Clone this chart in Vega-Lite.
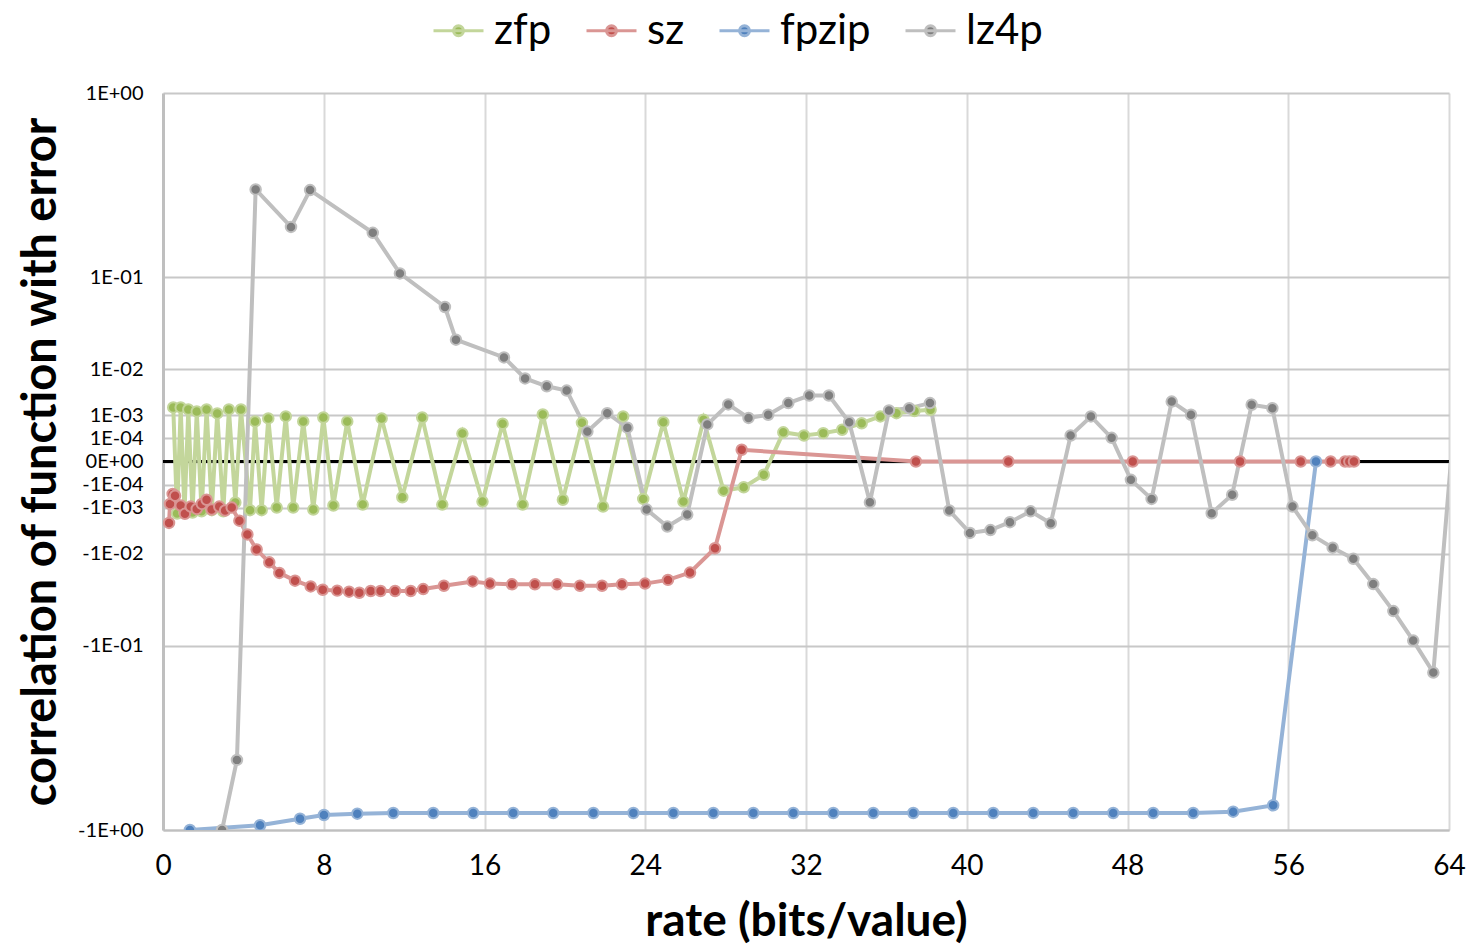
{
  "$schema": "https://vega.github.io/schema/vega-lite/v6.json",
  "width": 1286,
  "height": 737,
  "autosize": {"type": "none"},
  "padding": {"left": 163, "top": 93, "right": 25, "bottom": 117},
  "background": "white",
  "config": {
    "view": {"stroke": null},
    "font": "Lato",
    "axis": {"labelFont": "Lato", "titleFont": "Lato", "labelColor": "black", "titleColor": "black"},
    "legend": {"labelFont": "Lato"}
  },
  "data": {
    "values": [
      {"series": "zfp", "rate": 0.51, "corr": 0.0017},
      {"series": "zfp", "rate": 0.70, "corr": -0.0015},
      {"series": "zfp", "rate": 0.88, "corr": 0.0017},
      {"series": "zfp", "rate": 1.07, "corr": -0.0014},
      {"series": "zfp", "rate": 1.26, "corr": 0.0015},
      {"series": "zfp", "rate": 1.47, "corr": -0.0014},
      {"series": "zfp", "rate": 1.68, "corr": 0.00132},
      {"series": "zfp", "rate": 1.92, "corr": -0.0013},
      {"series": "zfp", "rate": 2.17, "corr": 0.0015},
      {"series": "zfp", "rate": 2.43, "corr": -0.0012},
      {"series": "zfp", "rate": 2.70, "corr": 0.00115},
      {"series": "zfp", "rate": 3.00, "corr": -0.0013},
      {"series": "zfp", "rate": 3.28, "corr": 0.0015},
      {"series": "zfp", "rate": 3.60, "corr": -0.00068},
      {"series": "zfp", "rate": 3.88, "corr": 0.0015},
      {"series": "zfp", "rate": 4.33, "corr": -0.0012},
      {"series": "zfp", "rate": 4.58, "corr": 0.00063},
      {"series": "zfp", "rate": 4.91, "corr": -0.0012},
      {"series": "zfp", "rate": 5.24, "corr": 0.0008},
      {"series": "zfp", "rate": 5.66, "corr": -0.001},
      {"series": "zfp", "rate": 6.11, "corr": 0.00093},
      {"series": "zfp", "rate": 6.48, "corr": -0.001},
      {"series": "zfp", "rate": 6.98, "corr": 0.00063},
      {"series": "zfp", "rate": 7.48, "corr": -0.00115},
      {"series": "zfp", "rate": 7.98, "corr": 0.00086},
      {"series": "zfp", "rate": 8.48, "corr": -0.00086},
      {"series": "zfp", "rate": 9.17, "corr": 0.00063},
      {"series": "zfp", "rate": 9.94, "corr": -0.0008},
      {"series": "zfp", "rate": 10.88, "corr": 0.0008},
      {"series": "zfp", "rate": 11.91, "corr": -0.00043},
      {"series": "zfp", "rate": 12.90, "corr": 0.00086},
      {"series": "zfp", "rate": 13.90, "corr": -0.0008},
      {"series": "zfp", "rate": 14.90, "corr": 0.00019},
      {"series": "zfp", "rate": 15.90, "corr": -0.00063},
      {"series": "zfp", "rate": 16.90, "corr": 0.00052},
      {"series": "zfp", "rate": 17.90, "corr": -0.0008},
      {"series": "zfp", "rate": 18.90, "corr": 0.00107},
      {"series": "zfp", "rate": 19.90, "corr": -0.00054},
      {"series": "zfp", "rate": 20.85, "corr": 0.00056},
      {"series": "zfp", "rate": 21.90, "corr": -0.00093},
      {"series": "zfp", "rate": 22.90, "corr": 0.00093},
      {"series": "zfp", "rate": 23.90, "corr": -0.0005},
      {"series": "zfp", "rate": 24.90, "corr": 0.00059},
      {"series": "zfp", "rate": 25.90, "corr": -0.00063},
      {"series": "zfp", "rate": 26.90, "corr": 0.00072},
      {"series": "zfp", "rate": 27.90, "corr": -0.00022},
      {"series": "zfp", "rate": 28.90, "corr": -0.000145},
      {"series": "zfp", "rate": 29.90, "corr": -0.000016},
      {"series": "zfp", "rate": 30.87, "corr": 0.00022},
      {"series": "zfp", "rate": 31.90, "corr": 0.00015},
      {"series": "zfp", "rate": 32.86, "corr": 0.0002},
      {"series": "zfp", "rate": 33.80, "corr": 0.00029},
      {"series": "zfp", "rate": 34.77, "corr": 0.00054},
      {"series": "zfp", "rate": 35.70, "corr": 0.00093},
      {"series": "zfp", "rate": 36.50, "corr": 0.00117},
      {"series": "zfp", "rate": 37.40, "corr": 0.00135},
      {"series": "zfp", "rate": 38.20, "corr": 0.00147},

      {"series": "sz", "rate": 0.30, "corr": -0.0026},
      {"series": "sz", "rate": 0.35, "corr": -0.00076},
      {"series": "sz", "rate": 0.48, "corr": -0.00031},
      {"series": "sz", "rate": 0.60, "corr": -0.00037},
      {"series": "sz", "rate": 0.88, "corr": -0.00086},
      {"series": "sz", "rate": 1.09, "corr": -0.00153},
      {"series": "sz", "rate": 1.38, "corr": -0.00093},
      {"series": "sz", "rate": 1.68, "corr": -0.0011},
      {"series": "sz", "rate": 1.93, "corr": -0.00076},
      {"series": "sz", "rate": 2.17, "corr": -0.00054},
      {"series": "sz", "rate": 2.42, "corr": -0.00115},
      {"series": "sz", "rate": 2.80, "corr": -0.00093},
      {"series": "sz", "rate": 3.09, "corr": -0.00123},
      {"series": "sz", "rate": 3.42, "corr": -0.001},
      {"series": "sz", "rate": 3.80, "corr": -0.0023},
      {"series": "sz", "rate": 4.20, "corr": -0.0046},
      {"series": "sz", "rate": 4.66, "corr": -0.0086},
      {"series": "sz", "rate": 5.29, "corr": -0.0135},
      {"series": "sz", "rate": 5.79, "corr": -0.0188},
      {"series": "sz", "rate": 6.57, "corr": -0.0235},
      {"series": "sz", "rate": 7.35, "corr": -0.0275},
      {"series": "sz", "rate": 7.95, "corr": -0.03},
      {"series": "sz", "rate": 8.67, "corr": -0.0307},
      {"series": "sz", "rate": 9.26, "corr": -0.0315},
      {"series": "sz", "rate": 9.77, "corr": -0.0324},
      {"series": "sz", "rate": 10.34, "corr": -0.031},
      {"series": "sz", "rate": 10.83, "corr": -0.031},
      {"series": "sz", "rate": 11.55, "corr": -0.031},
      {"series": "sz", "rate": 12.33, "corr": -0.031},
      {"series": "sz", "rate": 12.95, "corr": -0.0295},
      {"series": "sz", "rate": 13.98, "corr": -0.027},
      {"series": "sz", "rate": 15.41, "corr": -0.024},
      {"series": "sz", "rate": 16.27, "corr": -0.0255},
      {"series": "sz", "rate": 17.37, "corr": -0.026},
      {"series": "sz", "rate": 18.51, "corr": -0.026},
      {"series": "sz", "rate": 19.61, "corr": -0.026},
      {"series": "sz", "rate": 20.75, "corr": -0.027},
      {"series": "sz", "rate": 21.85, "corr": -0.027},
      {"series": "sz", "rate": 22.84, "corr": -0.026},
      {"series": "sz", "rate": 23.99, "corr": -0.0255},
      {"series": "sz", "rate": 25.13, "corr": -0.023},
      {"series": "sz", "rate": 26.23, "corr": -0.0186},
      {"series": "sz", "rate": 27.47, "corr": -0.0082},
      {"series": "sz", "rate": 28.80, "corr": 0.0000106},
      {"series": "sz", "rate": 37.47, "corr": 0},
      {"series": "sz", "rate": 42.07, "corr": 0},
      {"series": "sz", "rate": 48.26, "corr": 0},
      {"series": "sz", "rate": 53.60, "corr": 0},
      {"series": "sz", "rate": 56.62, "corr": 0},
      {"series": "sz", "rate": 58.11, "corr": 0},
      {"series": "sz", "rate": 58.83, "corr": 0},
      {"series": "sz", "rate": 59.04, "corr": 0},
      {"series": "sz", "rate": 59.27, "corr": 0},

      {"series": "fpzip", "rate": 1.34, "corr": -1.0},
      {"series": "fpzip", "rate": 4.83, "corr": -0.958},
      {"series": "fpzip", "rate": 6.82, "corr": -0.902},
      {"series": "fpzip", "rate": 8.01, "corr": -0.871},
      {"series": "fpzip", "rate": 9.67, "corr": -0.86},
      {"series": "fpzip", "rate": 11.46, "corr": -0.855},
      {"series": "fpzip", "rate": 13.45, "corr": -0.855},
      {"series": "fpzip", "rate": 15.44, "corr": -0.855},
      {"series": "fpzip", "rate": 17.43, "corr": -0.855},
      {"series": "fpzip", "rate": 19.42, "corr": -0.855},
      {"series": "fpzip", "rate": 21.42, "corr": -0.855},
      {"series": "fpzip", "rate": 23.41, "corr": -0.855},
      {"series": "fpzip", "rate": 25.40, "corr": -0.855},
      {"series": "fpzip", "rate": 27.39, "corr": -0.855},
      {"series": "fpzip", "rate": 29.38, "corr": -0.855},
      {"series": "fpzip", "rate": 31.37, "corr": -0.855},
      {"series": "fpzip", "rate": 33.36, "corr": -0.855},
      {"series": "fpzip", "rate": 35.35, "corr": -0.855},
      {"series": "fpzip", "rate": 37.34, "corr": -0.855},
      {"series": "fpzip", "rate": 39.33, "corr": -0.855},
      {"series": "fpzip", "rate": 41.32, "corr": -0.855},
      {"series": "fpzip", "rate": 43.31, "corr": -0.855},
      {"series": "fpzip", "rate": 45.30, "corr": -0.855},
      {"series": "fpzip", "rate": 47.29, "corr": -0.855},
      {"series": "fpzip", "rate": 49.28, "corr": -0.855},
      {"series": "fpzip", "rate": 51.27, "corr": -0.855},
      {"series": "fpzip", "rate": 53.26, "corr": -0.844},
      {"series": "fpzip", "rate": 55.25, "corr": -0.794},
      {"series": "fpzip", "rate": 57.38, "corr": 0},

      {"series": "lz4p", "rate": 2.94, "corr": -1.0},
      {"series": "lz4p", "rate": 3.68, "corr": -0.496},
      {"series": "lz4p", "rate": 4.61, "corr": 0.365},
      {"series": "lz4p", "rate": 6.37, "corr": 0.223},
      {"series": "lz4p", "rate": 7.32, "corr": 0.362},
      {"series": "lz4p", "rate": 10.44, "corr": 0.205},
      {"series": "lz4p", "rate": 11.79, "corr": 0.107},
      {"series": "lz4p", "rate": 14.03, "corr": 0.0557},
      {"series": "lz4p", "rate": 14.58, "corr": 0.0253},
      {"series": "lz4p", "rate": 16.97, "corr": 0.015},
      {"series": "lz4p", "rate": 18.02, "corr": 0.0071},
      {"series": "lz4p", "rate": 19.10, "corr": 0.0051},
      {"series": "lz4p", "rate": 20.09, "corr": 0.0042},
      {"series": "lz4p", "rate": 21.12, "corr": 0.00024},
      {"series": "lz4p", "rate": 22.11, "corr": 0.00117},
      {"series": "lz4p", "rate": 23.11, "corr": 0.00036},
      {"series": "lz4p", "rate": 24.07, "corr": -0.00115},
      {"series": "lz4p", "rate": 25.10, "corr": -0.00315},
      {"series": "lz4p", "rate": 26.09, "corr": -0.0016},
      {"series": "lz4p", "rate": 27.09, "corr": 0.000485},
      {"series": "lz4p", "rate": 28.13, "corr": 0.00204},
      {"series": "lz4p", "rate": 29.14, "corr": 0.00083},
      {"series": "lz4p", "rate": 30.12, "corr": 0.00105},
      {"series": "lz4p", "rate": 31.12, "corr": 0.0022},
      {"series": "lz4p", "rate": 32.16, "corr": 0.0033},
      {"series": "lz4p", "rate": 33.14, "corr": 0.0033},
      {"series": "lz4p", "rate": 34.15, "corr": 0.00059},
      {"series": "lz4p", "rate": 35.18, "corr": -0.00067},
      {"series": "lz4p", "rate": 36.13, "corr": 0.00141},
      {"series": "lz4p", "rate": 37.14, "corr": 0.00163},
      {"series": "lz4p", "rate": 38.17, "corr": 0.0022},
      {"series": "lz4p", "rate": 39.13, "corr": -0.00123},
      {"series": "lz4p", "rate": 40.16, "corr": -0.0043},
      {"series": "lz4p", "rate": 41.18, "corr": -0.00375},
      {"series": "lz4p", "rate": 42.15, "corr": -0.0025},
      {"series": "lz4p", "rate": 43.18, "corr": -0.0013},
      {"series": "lz4p", "rate": 44.18, "corr": -0.00265},
      {"series": "lz4p", "rate": 45.17, "corr": 0.00015},
      {"series": "lz4p", "rate": 46.18, "corr": 0.00093},
      {"series": "lz4p", "rate": 47.21, "corr": 0.00011},
      {"series": "lz4p", "rate": 48.17, "corr": -0.000047},
      {"series": "lz4p", "rate": 49.20, "corr": -0.0005},
      {"series": "lz4p", "rate": 50.20, "corr": 0.0024},
      {"series": "lz4p", "rate": 51.16, "corr": 0.00105},
      {"series": "lz4p", "rate": 52.19, "corr": -0.00147},
      {"series": "lz4p", "rate": 53.21, "corr": -0.00034},
      {"series": "lz4p", "rate": 54.18, "corr": 0.002},
      {"series": "lz4p", "rate": 55.21, "corr": 0.00163},
      {"series": "lz4p", "rate": 56.21, "corr": -0.00093},
      {"series": "lz4p", "rate": 57.20, "corr": -0.0048},
      {"series": "lz4p", "rate": 58.21, "corr": -0.008},
      {"series": "lz4p", "rate": 59.24, "corr": -0.012},
      {"series": "lz4p", "rate": 60.23, "corr": -0.0258},
      {"series": "lz4p", "rate": 61.23, "corr": -0.05},
      {"series": "lz4p", "rate": 62.22, "corr": -0.091},
      {"series": "lz4p", "rate": 63.22, "corr": -0.157},
      {"series": "lz4p", "rate": 64.22, "corr": 0.00024}
    ]
  },
  "encoding": {
    "x": {
      "field": "rate", "type": "quantitative",
      "scale": {"domain": [0, 64], "nice": false, "zero": false},
      "axis": {
        "values": [0, 8, 16, 24, 32, 40, 48, 56, 64],
        "title": "rate (bits/value)",
        "grid": true, "gridColor": "#D9D9D9", "gridWidth": 2,
        "ticks": false, "domainColor": "#BFBFBF", "domainWidth": 2,
        "labelFontSize": 28, "labelPadding": 22, "labelFlush": false,
        "titleFontSize": 46, "titleFontWeight": "bold", "titlePadding": 19
      }
    },
    "y": {
      "field": "corr", "type": "quantitative",
      "scale": {"type": "pow", "exponent": 0.30103, "domain": [-1, 1], "nice": false, "zero": false},
      "axis": {
        "values": [1, 0.1, 0.01, 0.001, 0.0001, 0, -0.0001, -0.001, -0.01, -0.1, -1],
        "labelExpr": "datum.value == 0 ? '0E+00' : (datum.value < 0 ? '-' : '') + '1E' + (abs(datum.value) >= 1 ? '+00' : '-0' + round(-log(abs(datum.value)) / LN10))",
        "title": "correlation of function with error",
        "grid": true, "gridColor": "#C8C8C8", "gridWidth": 2,
        "ticks": false, "domainColor": "#BFBFBF", "domainWidth": 3,
        "labelFontSize": 20, "labelPadding": 20, "labelOverlap": false, "labelFlush": false,
        "titleFontSize": 47, "titleFontWeight": "bold", "titlePadding": 12
      }
    }
  },
  "layer": [
    {
      "mark": {"type": "rule", "color": "black", "strokeWidth": 3},
      "encoding": {"y": {"datum": 0}, "x": {"datum": 0}, "x2": {"datum": 64}}
    },
    {
      "mark": {"type": "line", "strokeWidth": 4, "clip": true},
      "encoding": {
        "stroke": {
          "field": "series", "type": "nominal",
          "scale": {"domain": ["zfp", "sz", "fpzip", "lz4p"], "range": ["#C3D69B", "#DA9694", "#95B3D7", "#BFBFBF"]},
          "legend": {
            "title": null, "orient": "none", "legendX": 269, "legendY": -89,
            "direction": "horizontal",
            "symbolType": "M-1,0L1,0M0.2,0A0.2,0.2,0,1,1,-0.2,0A0.2,0.2,0,1,1,0.2,0Z",
            "symbolSize": 2500, "symbolStrokeWidth": 3,
            "labelFontSize": 42, "labelColor": "black", "labelOffset": 9,
            "columnPadding": 28,
            "encode": {
              "symbols": {
                "update": {
                  "shape": {"value": "M-1,0L1,0M0.2,0A0.2,0.2,0,1,1,-0.2,0A0.2,0.2,0,1,1,0.2,0Z"},
                  "fill": {"scale": "fill", "field": "value"},
                  "stroke": {"scale": "stroke", "field": "value"},
                  "strokeWidth": {"value": 3},
                  "opacity": {"value": 1},
                  "fillOpacity": {"value": 1}
                }
              }
            }
          }
        }
      }
    },
    {
      "transform": [{"filter": "datum.rate <= 64"}],
      "mark": {"type": "point", "filled": true, "size": 110, "strokeWidth": 2, "opacity": 1, "clip": true},
      "encoding": {
        "fill": {
          "field": "series", "type": "nominal",
          "scale": {"domain": ["zfp", "sz", "fpzip", "lz4p"], "range": ["#9BBB59", "#C0504D", "#4F81BD", "#7F7F7F"]},
          "legend": null
        },
        "stroke": {"field": "series", "type": "nominal"}
      }
    }
  ]
}
